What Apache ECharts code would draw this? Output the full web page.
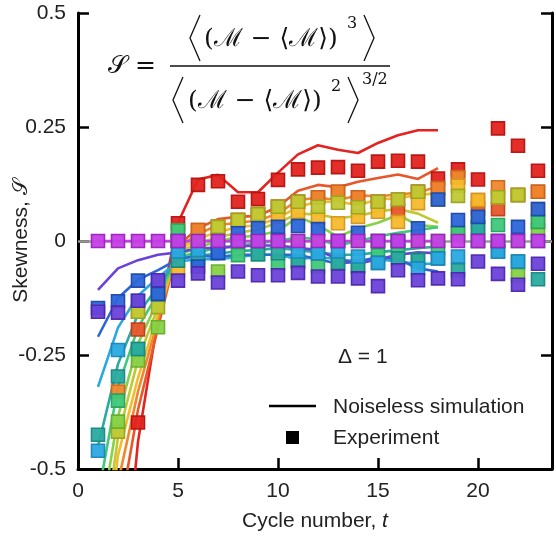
<!DOCTYPE html>
<html><head><meta charset="utf-8">
<script src="https://cdn.jsdelivr.net/npm/echarts@6/dist/echarts.min.js"></script>
<style>html,body{margin:0;padding:0;background:#fff}#c{width:556px;height:536px}</style>
</head><body><div id="c"></div>
<script>
// ---- data ----
const cycles = [1,2,3,4,5,6,7,8,9,10,11,12,13,14,15,16,17,18,19,20,21,22,23];
const simCycles = [1,2,3,4,5,6,7,8,9,10,11,12,13,14,15,16,17,18];
const yTicks = [-0.5,-0.25,0,0.25,0.5];
const xTicks = [0,5,10,15,20];
const seriesNames = ['red','orangeRed','orange','amber','yellowGreen','lightGreen','green','teal','cyan','blue','violet','magenta'];

// experiment (squares)
const expRed = [null,null,-0.398,null,0.039,0.123,0.131,0.086,0.092,0.134,0.157,0.161,0.162,0.154,0.174,0.176,0.174,0.137,0.157,0.135,0.247,0.209,0.154];
const expOrangeRed = [null,null,-0.194,null,0.0,0.024,0.031,0.046,0.059,0.075,0.086,0.096,0.108,0.096,0.086,0.066,0.108,0.116,0.14,0.072,0.07,0.101,0.108];
const expOrange = [null,-0.33,null,null,0.0,0.024,0.031,0.046,0.059,0.075,0.086,0.096,0.108,0.096,0.086,0.091,0.108,0.116,0.14,0.09,0.118,0.101,0.108];
const expAmber = [null,null,-0.155,null,-0.064,0.0,0.031,0.046,0.059,0.053,0.064,0.052,0.039,0.053,0.064,0.042,0.083,0.091,0.121,0.09,0.096,0.101,0.07];
const expYellowGreen = [null,-0.418,-0.155,-0.145,0.0,0.0,0.031,0.046,0.059,0.075,0.086,0.075,0.084,0.074,0.086,0.091,0.108,0.091,0.099,0.053,0.096,0.101,0.042];
const expLightGreen = [null,-0.396,-0.262,-0.189,0.023,0.0,-0.067,0.0,0.0,0.0,0.0,0.0,0.0,0.0,0.0,0.0,0.0,0.0,0.017,0.0,0.0,-0.075,0.024];
const expGreen = [null,-0.35,-0.237,-0.116,0.023,-0.038,0.0,-0.031,-0.029,-0.049,-0.045,-0.055,-0.048,-0.056,-0.031,-0.023,-0.042,-0.016,0.017,0.03,0.035,0.0,0.042];
const expTeal = [-0.425,-0.297,-0.237,-0.116,-0.043,-0.038,-0.026,0.0,-0.029,-0.027,-0.045,-0.027,-0.048,-0.056,-0.048,-0.038,-0.042,-0.038,-0.064,0.03,-0.023,-0.045,-0.084];
const expCyan = [-0.46,-0.239,-0.131,-0.087,-0.023,-0.02,-0.026,0.0,0.0,0.0,-0.023,-0.027,-0.023,-0.034,-0.048,0.0,-0.06,-0.038,-0.034,0.0,-0.023,-0.045,0.0];
const expBlue = [-0.147,-0.132,-0.087,-0.116,0.0,-0.056,-0.026,0.017,0.028,0.031,0.033,0.026,0.0,0.018,0.0,0.0,0.028,0.091,0.046,0.053,0.0,0.031,0.07];
const expViolet = [-0.155,-0.157,-0.131,-0.086,-0.087,-0.071,-0.091,-0.067,-0.075,-0.075,-0.07,-0.078,-0.078,-0.082,-0.099,-0.064,-0.086,-0.082,-0.084,-0.045,-0.072,-0.096,-0.05];
const expMagenta = [0,0,0,0,0,0,0,0,0,0,0,0,0,0,0,0,0,0,0,0,0,0,0];

// noiseless simulation (lines)
const simRed = [-1.3,-0.9,-0.44,-0.17,0.04,0.135,0.145,0.107,0.107,0.15,0.19,0.21,0.2,0.193,0.215,0.232,0.243,0.243];
const simOrangeRed = [-1.05,-0.62,-0.37,-0.19,-0.01,0.028,0.048,0.053,0.055,0.075,0.11,0.123,0.118,0.13,0.138,0.146,0.136,0.16];
const simOrange = [-0.95,-0.53,-0.33,-0.173,-0.015,0.015,0.035,0.04,0.045,0.06,0.09,0.095,0.09,0.1,0.098,0.102,0.106,0.12];
const simAmber = [-0.85,-0.47,-0.3,-0.16,-0.02,0.005,0.02,0.03,0.035,0.05,0.075,0.086,0.086,0.079,0.091,0.094,0.101,0.105];
const simYellowGreen = [-0.75,-0.43,-0.26,-0.145,-0.025,-0.005,0.008,0.018,0.025,0.04,0.06,0.058,0.05,0.055,0.065,0.07,0.06,0.04];
const simLightGreen = [-0.65,-0.385,-0.225,-0.13,-0.03,-0.015,0.0,0.008,0.012,0.022,0.053,0.035,0.009,0.028,0.04,0.057,0.035,0.031];
const simGreen = [-0.56,-0.32,-0.19,-0.115,-0.035,-0.025,-0.015,-0.01,-0.005,0.0,0.008,0.004,-0.01,0.0,0.01,0.018,0.024,0.03];
const simTeal = [-0.45,-0.27,-0.16,-0.1,-0.04,-0.032,-0.028,-0.022,-0.02,-0.015,-0.02,-0.025,-0.03,-0.03,-0.025,-0.02,-0.016,-0.012];
const simCyan = [-0.32,-0.19,-0.12,-0.08,-0.045,-0.04,-0.04,-0.035,-0.03,-0.03,-0.04,-0.035,-0.04,-0.045,-0.04,-0.045,-0.05,-0.05];
const simBlue = [-0.21,-0.125,-0.085,-0.064,-0.04,-0.032,-0.035,-0.03,-0.03,-0.03,-0.03,-0.04,-0.05,-0.045,-0.035,-0.04,-0.06,-0.067];
const simViolet = [-0.107,-0.06,-0.042,-0.03,-0.025,-0.016,-0.015,-0.012,-0.01,-0.01,-0.015,-0.02,-0.04,-0.05,-0.04,-0.03,-0.025,-0.027];
const simMagenta = [0,0,0,0,0,0,0,0,0,0,0,0,0,0,0,0,0,0];

// ---- styles ----
const fills   = ['#e3231f','#e8562a','#f0862e','#f6bb2b','#bfc934','#86d146','#3fc97a','#2aaba0','#2aa9e0','#2d66d9','#6b42d9','#c63fe6'];
const borders = ['#b5120f','#bf3c15','#c9661a','#d4961a','#9aa420','#65ad2b','#27a35c','#1a8780','#1a86b8','#1c47ac','#4d27ad','#9c22bd'];

const expAll = [expRed,expOrangeRed,expOrange,expAmber,expYellowGreen,expLightGreen,expGreen,expTeal,expCyan,expBlue,expViolet,expMagenta];
const simAll = [simRed,simOrangeRed,simOrange,simAmber,simYellowGreen,simLightGreen,simGreen,simTeal,simCyan,simBlue,simViolet,simMagenta];

const series = [];
simAll.forEach((arr,i)=>{
  const s = {
    name: 'sim-'+seriesNames[i], type:'line', data: simCycles.map((c,j)=>[c,arr[j]]),
    showSymbol:false, symbol:'none', clip:true, z:2,
    lineStyle:{color:fills[i], width:2.6}, itemStyle:{color:fills[i]}, silent:true, animation:false
  };
  if(i===0){
    s.markLine = {silent:true, symbol:'none', label:{show:false}, z:1,
      lineStyle:{color:'#999', width:2.5, type:'solid'}, data:[{yAxis:0}]};
  }
  series.push(s);
});
expAll.forEach((arr,i)=>{
  series.push({
    name:'exp-'+seriesNames[i], type:'scatter', z:3,
    data: cycles.map((c,j)=>arr[j]===null?null:[c,arr[j]]).filter(d=>d),
    symbol:'rect', symbolSize:13,
    itemStyle:{color:fills[i], borderColor:borders[i], borderWidth:1.6, opacity:0.95},
    animation:false, silent:true
  });
});

const chart = echarts.init(document.getElementById('c'), null, {renderer:'canvas'});
const axisFont = 'Liberation Sans, Arial, sans-serif';
const mathFont = 'DejaVu Serif, Liberation Serif, serif';
const ink = '#111';
function bracket(x1,xp,yTop,yBot){
  return {type:'polyline', shape:{points:[[x1,yTop],[xp,(yTop+yBot)/2],[x1,yBot]]}, style:{stroke:ink, lineWidth:1.3, fill:null}};
}
chart.setOption({
  animation:false,
  grid:{left:78, top:13, width:474, height:456, outerBoundsMode:'none', containLabel:false},
  xAxis:{
    type:'value', min:0, max:23.7, interval:5,
    name:'Cycle number, {i|t}', nameLocation:'middle', nameGap:42, nameMoveOverlap:false,
    nameTextStyle:{fontFamily:axisFont, fontSize:21, color:'#222', rich:{i:{fontStyle:'italic', fontFamily:axisFont, fontSize:21, color:'#222'}}},
    axisLine:{show:true, onZero:false, lineStyle:{color:'#000', width:3}},
    axisTick:{show:true, inside:true, length:11, lineStyle:{color:'#000', width:2.5}},
    axisLabel:{fontFamily:axisFont, fontSize:21, color:'#222', margin:12, showMaxLabel:false,
      formatter:v=> xTicks.indexOf(v)>=0 ? String(v) : ''},
    splitLine:{show:false}
  },
  yAxis:[{
    type:'value', min:-0.5, max:0.5, interval:0.25, position:'left',
    name:'Skewness, 𝒮', nameLocation:'middle', nameGap:46, nameMoveOverlap:false,
    nameTextStyle:{fontFamily:axisFont, fontSize:21, color:'#222'},
    axisLine:{show:true, onZero:false, lineStyle:{color:'#000', width:3}},
    axisTick:{show:true, inside:true, length:11, lineStyle:{color:'#000', width:2.5}},
    axisLabel:{fontFamily:axisFont, fontSize:21, color:'#222', margin:12,
      formatter:v=> yTicks.indexOf(v)>=0 ? String(v) : ''},
    splitLine:{show:false}
  },{
    type:'value', min:-0.5, max:0.5, interval:0.25, position:'right',
    axisLine:{show:true, onZero:false, lineStyle:{color:'#000', width:3}},
    axisTick:{show:true, inside:true, length:11, lineStyle:{color:'#000', width:2.5}},
    axisLabel:{show:false}, splitLine:{show:false}
  }],
  series: series,
  graphic:[
    // formula
    {type:'text', x:108, y:66, style:{text:'𝒮 =', font:'25px '+mathFont, fill:ink, verticalAlign:'middle'}},
    {type:'line', shape:{x1:170,y1:66,x2:390,y2:66}, style:{stroke:ink, lineWidth:1.4}},
    bracket(200,190,15,61),
    {type:'text', x:204, y:39, style:{text:'(ℳ − ⟨ℳ⟩)', font:'25px '+mathFont, fill:ink, verticalAlign:'middle'}},
    {type:'text', x:347, y:24, style:{text:'3', font:'16px '+mathFont, fill:ink, verticalAlign:'middle'}},
    bracket(364,374,15,61),
    bracket(183,173,77,123),
    {type:'text', x:188, y:101, style:{text:'(ℳ − ⟨ℳ⟩)', font:'25px '+mathFont, fill:ink, verticalAlign:'middle'}},
    {type:'text', x:331, y:87, style:{text:'2', font:'16px '+mathFont, fill:ink, verticalAlign:'middle'}},
    bracket(348,358,77,123),
    {type:'text', x:362, y:80, style:{text:'3/2', font:'16px '+mathFont, fill:ink, verticalAlign:'middle'}},
    // delta
    {type:'text', x:338, y:357, style:{text:'Δ = 1', font:'21px '+axisFont, fill:'#222', verticalAlign:'middle'}},
    // legend
    {type:'line', shape:{x1:269,y1:406,x2:316,y2:406}, style:{stroke:'#000', lineWidth:2.6}},
    {type:'text', x:333, y:407, style:{text:'Noiseless simulation', font:'21px '+axisFont, fill:'#222', verticalAlign:'middle'}},
    {type:'rect', shape:{x:286,y:431,width:13,height:13}, style:{fill:'#000'}},
    {type:'text', x:333, y:438, style:{text:'Experiment', font:'21px '+axisFont, fill:'#222', verticalAlign:'middle'}}
  ]
});
</script></body></html>
